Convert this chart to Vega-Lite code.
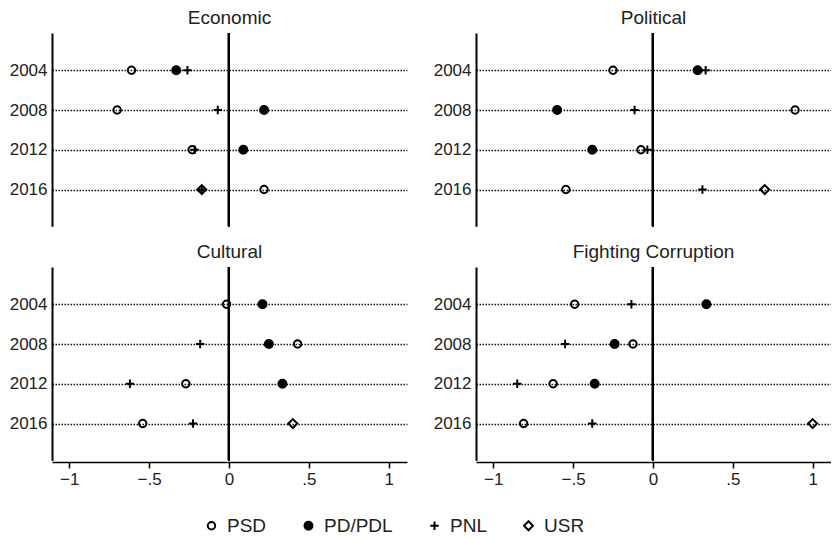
{
  "$schema": "https://vega.github.io/schema/vega-lite/v6.json",
  "padding": {"left": 9, "top": 9, "right": 0, "bottom": 0},
  "background": "white",
  "data": {"values": [
    {"dim": "Economic", "year": 2004, "party": "PSD", "value": -0.61},
    {"dim": "Economic", "year": 2004, "party": "PD/PDL", "value": -0.33},
    {"dim": "Economic", "year": 2004, "party": "PNL", "value": -0.26},
    {"dim": "Economic", "year": 2008, "party": "PSD", "value": -0.70},
    {"dim": "Economic", "year": 2008, "party": "PNL", "value": -0.07},
    {"dim": "Economic", "year": 2008, "party": "PD/PDL", "value": 0.22},
    {"dim": "Economic", "year": 2012, "party": "PSD", "value": -0.23},
    {"dim": "Economic", "year": 2012, "party": "PNL", "value": -0.215},
    {"dim": "Economic", "year": 2012, "party": "PD/PDL", "value": 0.09},
    {"dim": "Economic", "year": 2016, "party": "PNL", "value": -0.17},
    {"dim": "Economic", "year": 2016, "party": "USR", "value": -0.17},
    {"dim": "Economic", "year": 2016, "party": "PSD", "value": 0.22},
    {"dim": "Political", "year": 2004, "party": "PSD", "value": -0.25},
    {"dim": "Political", "year": 2004, "party": "PD/PDL", "value": 0.28},
    {"dim": "Political", "year": 2004, "party": "PNL", "value": 0.33},
    {"dim": "Political", "year": 2008, "party": "PD/PDL", "value": -0.60},
    {"dim": "Political", "year": 2008, "party": "PNL", "value": -0.115},
    {"dim": "Political", "year": 2008, "party": "PSD", "value": 0.89},
    {"dim": "Political", "year": 2012, "party": "PD/PDL", "value": -0.38},
    {"dim": "Political", "year": 2012, "party": "PSD", "value": -0.075},
    {"dim": "Political", "year": 2012, "party": "PNL", "value": -0.035},
    {"dim": "Political", "year": 2016, "party": "PSD", "value": -0.545},
    {"dim": "Political", "year": 2016, "party": "PNL", "value": 0.31},
    {"dim": "Political", "year": 2016, "party": "USR", "value": 0.70},
    {"dim": "Cultural", "year": 2004, "party": "PSD", "value": -0.015},
    {"dim": "Cultural", "year": 2004, "party": "PD/PDL", "value": 0.21},
    {"dim": "Cultural", "year": 2008, "party": "PNL", "value": -0.18},
    {"dim": "Cultural", "year": 2008, "party": "PD/PDL", "value": 0.25},
    {"dim": "Cultural", "year": 2008, "party": "PSD", "value": 0.43},
    {"dim": "Cultural", "year": 2012, "party": "PNL", "value": -0.62},
    {"dim": "Cultural", "year": 2012, "party": "PSD", "value": -0.27},
    {"dim": "Cultural", "year": 2012, "party": "PD/PDL", "value": 0.335},
    {"dim": "Cultural", "year": 2016, "party": "PSD", "value": -0.54},
    {"dim": "Cultural", "year": 2016, "party": "PNL", "value": -0.225},
    {"dim": "Cultural", "year": 2016, "party": "USR", "value": 0.40},
    {"dim": "Fighting Corruption", "year": 2004, "party": "PSD", "value": -0.49},
    {"dim": "Fighting Corruption", "year": 2004, "party": "PNL", "value": -0.135},
    {"dim": "Fighting Corruption", "year": 2004, "party": "PD/PDL", "value": 0.335},
    {"dim": "Fighting Corruption", "year": 2008, "party": "PNL", "value": -0.55},
    {"dim": "Fighting Corruption", "year": 2008, "party": "PD/PDL", "value": -0.24},
    {"dim": "Fighting Corruption", "year": 2008, "party": "PSD", "value": -0.125},
    {"dim": "Fighting Corruption", "year": 2012, "party": "PNL", "value": -0.85},
    {"dim": "Fighting Corruption", "year": 2012, "party": "PSD", "value": -0.625},
    {"dim": "Fighting Corruption", "year": 2012, "party": "PD/PDL", "value": -0.365},
    {"dim": "Fighting Corruption", "year": 2016, "party": "PSD", "value": -0.81},
    {"dim": "Fighting Corruption", "year": 2016, "party": "PNL", "value": -0.38},
    {"dim": "Fighting Corruption", "year": 2016, "party": "USR", "value": 1.0}
  ]},
  "facet": {
    "field": "dim",
    "type": "nominal",
    "sort": ["Economic", "Political", "Cultural", "Fighting Corruption"],
    "header": {"title": null, "labelFontSize": 19, "labelFont": "Liberation Sans", "labelColor": "#222", "labelPadding": 4}
  },
  "columns": 2,
  "spacing": {"row": 15, "column": 26},
  "resolve": {"axis": {"y": "independent"}},
  "spec": {
    "width": 355,
    "height": 193.3,
    "layer": [
      {
        "mark": {"type": "rule", "strokeWidth": 2, "color": "black"},
        "encoding": {"x": {"datum": 0, "type": "quantitative"}}
      },
      {
        "mark": {"type": "point", "filled": false, "strokeWidth": 2, "color": "black", "opacity": 1},
        "encoding": {
          "x": {
            "field": "value", "type": "quantitative",
            "scale": {"domain": [-1.108, 1.115], "nice": false, "zero": false},
            "axis": {
              "title": null, "values": [-1, -0.5, 0, 0.5, 1], "grid": false,
              "labelExpr": "replace(format(datum.value, '~g'), '0.', '.')",
              "labelFont": "Liberation Sans", "labelFontSize": 17, "labelColor": "#222",
              "tickSize": 6, "tickWidth": 1.5, "tickColor": "black",
              "domainColor": "black", "domainWidth": 1.5, "labelPadding": 3
            }
          },
          "y": {
            "field": "year", "type": "quantitative",
            "scale": {"domain": [2000.25, 2019.7], "reverse": true, "nice": false, "zero": false},
            "axis": {
              "title": null, "values": [2004, 2008, 2012, 2016], "format": "d",
              "ticks": false, "tickSize": 0, "labelPadding": 5,
              "labelFont": "Liberation Sans", "labelFontSize": 17, "labelColor": "#222",
              "domainColor": "black", "domainWidth": 2,
              "grid": true, "gridColor": "#111", "gridDash": [1.5, 1.5], "gridWidth": 1.6, "gridOpacity": 1
            }
          },
          "shape": {
            "field": "party", "type": "nominal",
            "scale": {"domain": ["PSD", "PD/PDL", "PNL", "USR"], "range": ["circle", "circle", "M-1,0H1M0,-1V1", "diamond"]},
            "legend": {
              "title": null, "orient": "none", "direction": "horizontal",
              "legendX": 150, "legendY": 483,
              "labelFont": "Liberation Sans", "labelFontSize": 19, "labelColor": "#222",
              "symbolStrokeWidth": 2, "symbolStrokeColor": "black",
              "labelOffset": 6, "columnPadding": 32
            }
          },
          "fill": {
            "field": "party", "type": "nominal",
            "scale": {"domain": ["PSD", "PD/PDL", "PNL", "USR"], "range": ["transparent", "black", "transparent", "transparent"]},
            "legend": {"title": null, "orient": "none", "direction": "horizontal", "legendX": 150, "legendY": 483}
          },
          "size": {
            "field": "party", "type": "nominal",
            "scale": {"domain": ["PSD", "PD/PDL", "PNL", "USR"], "range": [55, 80, 90, 130]},
            "legend": {"title": null, "orient": "none", "direction": "horizontal", "legendX": 150, "legendY": 483}
          }
        }
      }
    ]
  },
  "config": {
    "view": {"stroke": null},
    "font": "Liberation Sans"
  }
}
